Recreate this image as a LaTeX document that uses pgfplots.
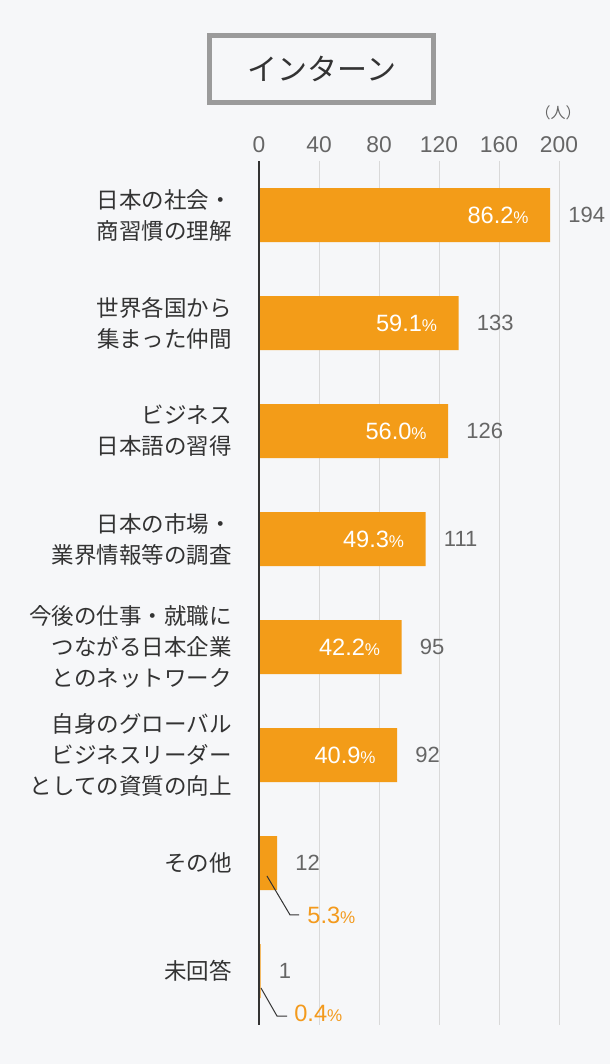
\documentclass[border=0pt]{standalone}
\usepackage{fontspec}
\setmainfont{Noto Sans CJK JP}
\newfontfamily\numfont{Liberation Sans}
\usepackage{pgfplots}
\pgfplotsset{compat=1.18}
\usepackage{pgfplotstable}
\definecolor{bg}{HTML}{F6F7F9}
\definecolor{barc}{HTML}{F39C18}
\definecolor{orangetext}{HTML}{F39A1D}
\definecolor{txt}{HTML}{333333}
\definecolor{gray66}{HTML}{666666}
\definecolor{gridc}{HTML}{D9D9D9}
\definecolor{boxgray}{HTML}{9B9B9B}
\definecolor{axisdark}{HTML}{333333}

\pgfplotstableread{
y count pct
0 194 86.2
1 133 59.1
2 126 56.0
3 111 49.3
4 95 42.2
5 92 40.9
6 12 5.3
7 1 0.4
}\datatable

\pgfplotstableread{
y count pct
0 194 86.2
1 133 59.1
2 126 56.0
3 111 49.3
4 95 42.2
5 92 40.9
}\insidetable

\pgfplotstableread{
x y lab
32 6.481 5.3
23.3 7.389 0.4
}\outsidetable

\begin{document}
\begin{tikzpicture}
\useasboundingbox (0,0) rectangle (305pt,532pt);
\fill[bg] (0,0) rectangle (305pt,532pt);
\draw[boxgray, line width=2.5pt] (104.75pt,514.25pt) rectangle (216.75pt,480.75pt);
\node[font=\fontsize{15}{18}\selectfont, text=txt] at (161pt,497.5pt) {インターン};
\node[font=\fontsize{7.5}{9}\selectfont, text=gray66] at (279pt,475.5pt) {（人）};
\begin{axis}[
  at={(129.5pt,19.5pt)}, anchor=south west,
  scale only axis, width=150pt, height=432pt,
  xmin=0, xmax=200, ymin=-0.5, ymax=7.5,
  y dir=reverse, clip=false,
  axis line style={draw=none},
  major tick length=0pt,
  xtick={0,40,80,120,160,200},
  xticklabels={0,40,80,120,160,200},
  xmajorgrids, grid style={color=gridc, line width=0.5pt},
  xticklabel pos=upper,
  xticklabel style={anchor=south, inner sep=0pt, yshift=4pt, font=\numfont\fontsize{11.4}{13}\selectfont, text=gray66},
  ytick={0,1,2,3,4,5,6,7},
  yticklabels={{日本の社会・\\商習慣の理解},{世界各国から\\集まった仲間},{ビジネス\\日本語の習得},{日本の市場・\\業界情報等の調査},{今後の仕事・就職に\\つながる日本企業\\とのネットワーク},{自身のグローバル\\ビジネスリーダー\\としての資質の向上},{その他},{未回答}},
  yticklabel style={anchor=east, align=right, inner sep=0pt, xshift=-13.5pt, font=\fontsize{11.25}{15.5}\selectfont, text=txt},
]
\addplot[xbar, bar width=27pt, bar shift=0pt, fill=barc, draw=none,
  nodes near coords, point meta=explicit symbolic,
  nodes near coords style={anchor=west, inner sep=0pt, xshift=9pt, font=\numfont\fontsize{11}{13}\selectfont, text=gray66}]
  table[x=count, y=y, meta=count] {\datatable};
\addplot[draw=none, mark=none,
  nodes near coords={\pgfplotspointmeta{\fontsize{8.5}{10}\selectfont\%}},
  point meta=explicit symbolic,
  nodes near coords style={anchor=east, inner sep=0pt, xshift=-10.5pt, font=\numfont\fontsize{11.8}{13}\selectfont, text=white}]
  table[x=count, y=y, meta=pct] {\insidetable};
\addplot[draw=none, mark=none,
  nodes near coords={\pgfplotspointmeta{\fontsize{8.5}{10}\selectfont\%}},
  point meta=explicit symbolic,
  nodes near coords style={anchor=west, inner sep=0pt, font=\numfont\fontsize{11.8}{13}\selectfont, text=orangetext}]
  table[x=x, y=y, meta=lab] {\outsidetable};
\addplot[color=axisdark, line width=0.5pt, mark=none] coordinates {(5.3,6.12) (20.7,6.481) (26.7,6.481)};
\addplot[color=axisdark, line width=0.5pt, mark=none] coordinates {(1.3,7.157) (12,7.417) (18.7,7.417)};
\addplot[color=axisdark, line width=0.6pt, mark=none] coordinates {(0,-0.5) (0,7.5)};
\end{axis}
\end{tikzpicture}
\end{document}
